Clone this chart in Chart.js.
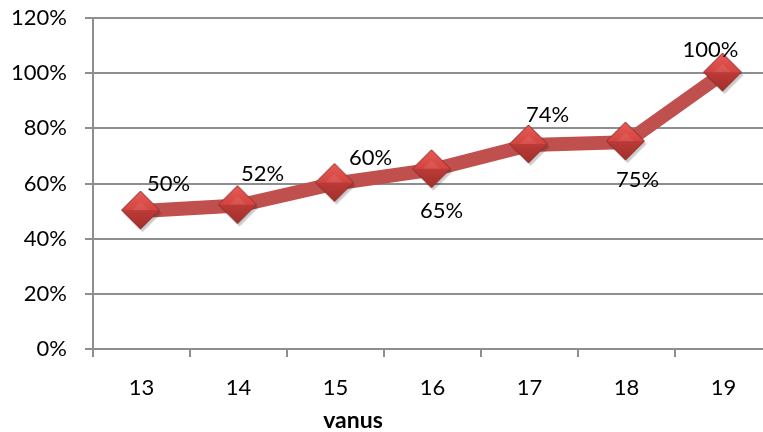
<!DOCTYPE html>
<html>
<head>
<meta charset="utf-8">
<script src="https://cdn.jsdelivr.net/npm/chart.js@4.4.0/dist/chart.umd.min.js"></script>
<style>
    html, body { margin: 0; padding: 0; background: #fff; overflow: hidden; }
    canvas { display: block; }
</style>
</head>
<body>
<canvas id="chart" width="790" height="432"></canvas>
<script>
// Datos del gráfico
const ages = ['13', '14', '15', '16', '17', '18', '19'];
const shares = [50, 52, 60, 65, 74, 75, 100];
const yTicks = [0, 20, 40, 60, 80, 100, 120];
const xTitle = 'vanus';

// Desplazamiento de las etiquetas respecto al punto (px)
const labelDx = [27, 24, 35, 9, 18, 11, -13];
const labelDy = [-27, -32, -26, 41, -30, 38, -23];

const colors = {
    line: '#c0504d',
    grid: '#8e8e8e',
    text: '#000000'
};
const fontFamily = 'Lato, "Open Sans", sans-serif';

// Marcador en forma de diamante con relieve
function makeDiamond(r) {
    const pad = 5;
    const size = r * 2 + pad * 2;
    const c = document.createElement('canvas');
    c.width = size; c.height = size;
    const g = c.getContext('2d');
    const cx = size / 2 - 1, cy = size / 2 - 1;
    const shape = (dx, dy) => {
        g.beginPath();
        g.moveTo(cx + dx, cy - r + dy); g.lineTo(cx + r + dx, cy + dy);
        g.lineTo(cx + dx, cy + r + dy); g.lineTo(cx - r + dx, cy + dy);
        g.closePath();
    };
    // sombra
    g.fillStyle = 'rgba(0,0,0,0.2)';
    shape(2, 3); g.fill();
    // mitad superior
    const up = g.createLinearGradient(0, cy - r, 0, cy);
    up.addColorStop(0, '#e65a55');
    up.addColorStop(1, '#d44541');
    g.fillStyle = up;
    g.beginPath();
    g.moveTo(cx, cy - r); g.lineTo(cx + r, cy); g.lineTo(cx - r, cy);
    g.closePath(); g.fill();
    // mitad inferior
    const down = g.createLinearGradient(0, cy, 0, cy + r);
    down.addColorStop(0, '#bb3b37');
    down.addColorStop(1, '#a32f2c');
    g.fillStyle = down;
    g.beginPath();
    g.moveTo(cx - r, cy); g.lineTo(cx + r, cy); g.lineTo(cx, cy + r);
    g.closePath(); g.fill();
    // relieve central
    g.fillStyle = 'rgba(255,255,255,0.08)';
    g.beginPath();
    g.moveTo(cx - r * 0.45, cy); g.lineTo(cx, cy - r * 0.45); g.lineTo(cx + r * 0.45, cy);
    g.closePath(); g.fill();
    // borde
    g.strokeStyle = '#8a2c2a';
    g.lineWidth = 1;
    shape(0, 0); g.stroke();
    return c;
}

// Etiquetas de datos
const dataLabels = {
    id: 'dataLabels',
    afterDatasetsDraw(chart) {
        const ctx = chart.ctx;
        const meta = chart.getDatasetMeta(0);
        ctx.save();
        ctx.font = '22px ' + fontFamily;
        ctx.fillStyle = colors.text;
        ctx.textAlign = 'center';
        ctx.textBaseline = 'middle';
        meta.data.forEach(function(pt, i) {
            ctx.fillText(shares[i] + '%', pt.x + labelDx[i], pt.y + labelDy[i]);
        });
        ctx.restore();
    }
};

// Título del eje X
const axisTitle = {
    id: 'axisTitle',
    afterDraw(chart) {
        const ctx = chart.ctx;
        ctx.save();
        ctx.font = 'bold 23px ' + fontFamily;
        ctx.fillStyle = colors.text;
        ctx.textAlign = 'center';
        ctx.textBaseline = 'alphabetic';
        ctx.fillText(xTitle, 353, 428);
        ctx.restore();
    }
};

new Chart(document.getElementById('chart'), {
    type: 'line',
    data: {
        labels: ages,
        datasets: [{
            data: shares,
            borderColor: colors.line,
            borderWidth: 14,
            tension: 0,
            pointStyle: makeDiamond(19),
            pointRadius: 19,
            clip: false
        }]
    },
    options: {
        responsive: false,
        animation: false,
        layout: { autoPadding: false, padding: { top: 18, right: 18, left: 0, bottom: 0 } },
        plugins: {
            legend: { display: false },
            tooltip: { enabled: false }
        },
        scales: {
            x: {
                offset: true,
                grid: {
                    offset: true,
                    drawOnChartArea: false,
                    color: colors.grid,
                    lineWidth: 2,
                    tickLength: 8
                },
                border: { color: colors.grid, width: 2 },
                ticks: {
                    color: colors.text,
                    font: { family: fontFamily, size: 22 },
                    padding: 18,
                    maxRotation: 0
                },
                afterFit: function(scale) {
                    scale.height = 83;
                    scale.paddingLeft = 0;
                    scale.paddingRight = 0;
                }
            },
            y: {
                min: 0,
                max: 120,
                afterBuildTicks: function(scale) {
                    scale.ticks = yTicks.map(v => ({ value: v }));
                },
                grid: {
                    color: colors.grid,
                    lineWidth: 2,
                    tickLength: 8
                },
                border: { color: colors.grid, width: 2 },
                ticks: {
                    color: colors.text,
                    font: { family: fontFamily, size: 22 },
                    padding: 18,
                    callback: function(value) { return value + '%'; }
                },
                afterFit: function(scale) {
                    scale.width = 93;
                    scale.paddingTop = 0;
                    scale.paddingBottom = 0;
                }
            }
        }
    },
    plugins: [dataLabels, axisTitle]
});
</script>
</body>
</html>
